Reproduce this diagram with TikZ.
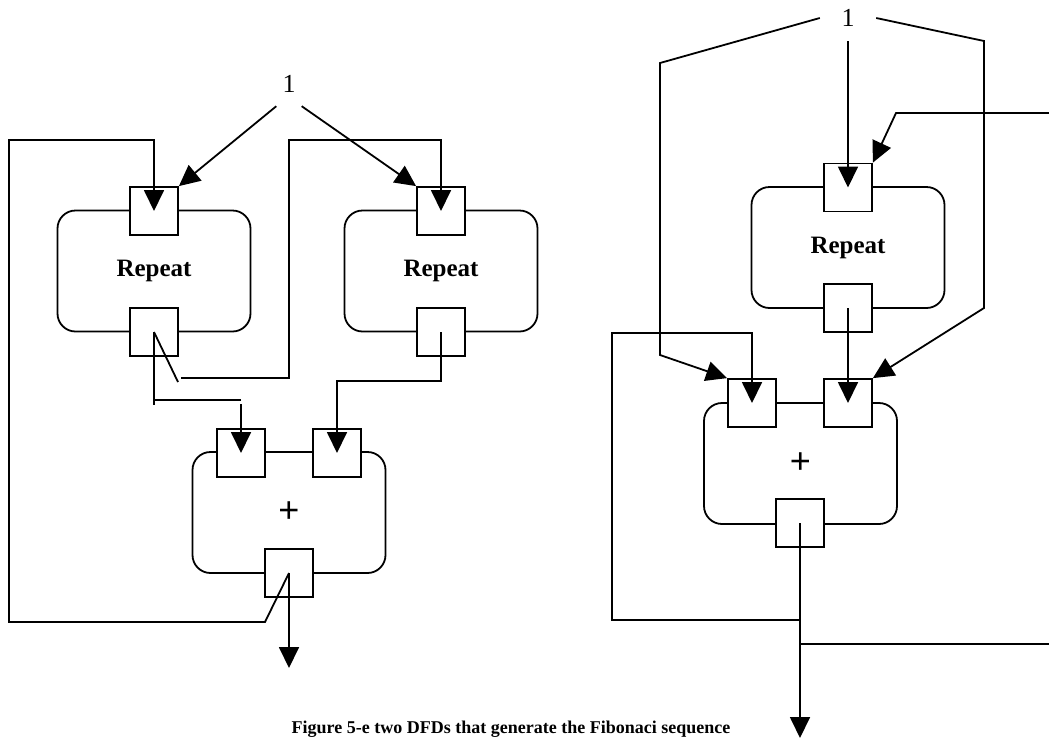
\documentclass[tikz,border=0pt]{standalone}
\usepackage{fontspec}
\setmainfont{Liberation Serif}
\newfontfamily\plusfont{Liberation Sans}
\usetikzlibrary{arrows.meta}
\begin{document}
\begin{tikzpicture}[x=1pt,y=-1pt,
  wire/.style={line width=1.8pt},
  flow/.style={wire,-{Triangle[length=21pt,width=20pt]}},
  block/.style={draw,line width=1.8pt,rounded corners=18pt,minimum width=193pt,minimum height=121pt,inner sep=0pt},
  repblock/.style={block,font=\fontsize{25}{30}\selectfont\bfseries},
  addblock/.style={block,font=\plusfont\fontsize{36}{40}\selectfont},
  port/.style={draw,fill=white,line width=1.8pt,minimum size=48pt,inner sep=0pt},
  const/.style={inner sep=0pt,font=\fontsize{26}{30}\selectfont}
]
\useasboundingbox (0,0) rectangle (1049,740);

% ---------- first network: two Repeat operators feeding an adder ----------
\node[repblock] (rep1) at (154,271) {Repeat};
\node[repblock] (rep2) at (441,271) {Repeat};
\node[addblock] (add1) at (289,512.5) {+};
\node[port] (r1in)  at (154,211) {};
\node[port] (r1out) at (154,332) {};
\node[port] (r2in)  at (441,211) {};
\node[port] (r2out) at (441,332) {};
\node[port] (a1in)  at (241,453) {};
\node[port] (a2in)  at (337,453) {};
\node[port] (a1out) at (289,573) {};
\node[const,minimum width=25pt,minimum height=44pt] (oneL) at (289,84) {1};

\coordinate (a1res) at (289,668);

\draw[flow] (oneL.south west) -- (r1in.north east);
\draw[flow] (oneL.south east) -- (r2in.north west);
% sum fed back into the first Repeat
\draw[flow] (a1out.center) -- (265,622) -- (9,622) -- (9,140) -| (r1in.center);
% first Repeat output goes on to the second Repeat
\draw[wire] (r1out.center) -- (178,382);
\draw[flow] (181,378) -- (289,378) -- (289,140) -| (r2in.center);
% first Repeat output into the adder
\draw[wire] (r1out.center) -- (154,405);
\draw[wire] (154,400) -- (241,400);
\draw[flow] (241,404) -- (a1in.center);
% second Repeat output into the adder
\draw[flow] (r2out.center) -- (441,381) -| (a2in.center);
% result
\draw[flow] (a1out.center) -- (a1res);

% ---------- second network: one Repeat and an adder ----------
\node[repblock] (rep3) at (848,247.5) {Repeat};
\node[addblock] (add2) at (800.5,463.5) {+};
\node[port] (r3in)  at (848,187.5) {};
\node[port] (r3out) at (848,308) {};
\node[port] (b1in)  at (752,403) {};
\node[port] (b2in)  at (848,403) {};
\node[port] (b1out) at (800,523) {};
\node[const,minimum width=56pt,minimum height=46pt] (oneR) at (848,18) {1};

\coordinate (fbR)   at (1049,113);
\coordinate (tapA)  at (800,620);
\coordinate (tapB)  at (800,644);
\coordinate (edgeB) at (1049,644);
\coordinate (b1res) at (800,738);

\draw[flow] (oneR.west) -- (660,63) -- (660,355) -- (b1in.north west);
\draw[flow] (oneR.south) -- (r3in.center);
\draw[flow] (oneR.east) -- (984,41) -- (984,308) -- (b2in.north east);
\draw[flow] (fbR) -- (896,113) -- (r3in.north east);
\draw[flow] (r3out.center) -- (b2in.center);
\draw[flow] (tapA) -- (612,620) -- (612,333) -| (b1in.center);
\draw[wire] (tapB) -- (edgeB);
\draw[flow] (b1out.center) -- (b1res);

% caption
\node[font=\fontsize{18}{22}\selectfont\bfseries,anchor=base,inner sep=0pt] (cap) at (511,733)
  {Figure 5-e two DFDs that generate the Fibonaci sequence};
\end{tikzpicture}
\end{document}
